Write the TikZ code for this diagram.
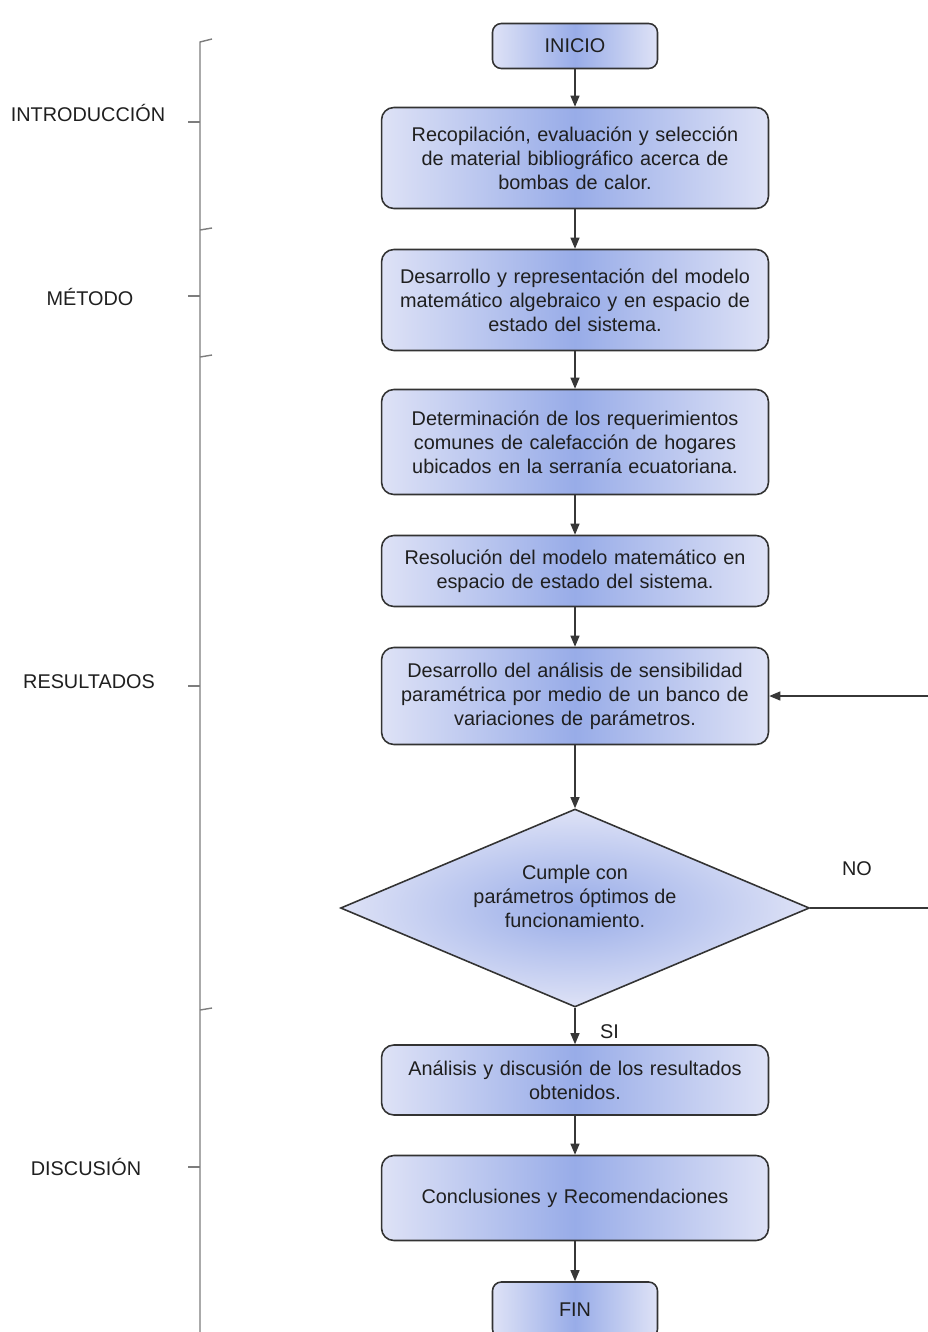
\documentclass[tikz,border=0pt]{standalone}
\usepackage{fontspec}
\setmainfont{Liberation Sans}
\usepackage{xcolor}
\usetikzlibrary{arrows.meta,positioning,shapes.geometric,calc}
\definecolor{boxedge}{RGB}{222,226,246}
\definecolor{boxmid}{RGB}{152,172,232}
\definecolor{inkline}{RGB}{55,55,55}
\definecolor{bracegray}{RGB}{125,125,125}

\begin{document}
\begin{tikzpicture}[
x=0.02cm,
y=-0.02cm,
every node/.style={font=\fontsize{11.3}{13.6}\selectfont,text=black!88},
stepbox/.style={rectangle,rounded corners=7pt,draw=black!80,line width=0.9pt,left color=boxedge,right color=boxedge,middle color=boxmid,align=center,inner sep=2pt,minimum width=7.74cm,text width=7.4cm},
term/.style={stepbox,rounded corners=5pt,minimum width=3.3cm,text width=3cm},
check/.style={diamond,aspect=2.37,draw=black!80,line width=0.9pt,inner color=boxmid,outer color=boxedge,align=center,inner sep=0pt,minimum width=9.38cm,minimum height=3.96cm},
arr/.style={-{Triangle[length=2.2mm,width=1.8mm]},draw=inkline,line width=0.65pt},
brace/.style={draw=bracegray,line width=0.8pt},
lbl/.style={inner sep=1pt},
phase/.style={inner sep=0pt}
]
\useasboundingbox (0,0) rectangle (927,1332);

\node[term,minimum height=0.9cm] (inicio) at (575,46) {INICIO};
\node[stepbox,minimum height=2.02cm] (recop) at (575,158) {Recopilación, evaluación y selección\\de material bibliográfico acerca de\\bombas de calor.};
\node[stepbox,minimum height=2.02cm] (modelo) at (575,300) {Desarrollo y representación del modelo\\matemático algebraico y en espacio de\\estado del sistema.};
\node[stepbox,minimum height=2.1cm] (reque) at (575,442) {Determinación de los requerimientos\\comunes de calefacción de hogares\\ubicados en la serranía ecuatoriana.};
\node[stepbox,minimum height=1.42cm] (resol) at (575,571) {Resolución del modelo matemático en\\espacio de estado del sistema.};
\node[stepbox,minimum height=1.94cm] (sensib) at (575,696) {Desarrollo del análisis de sensibilidad\\paramétrica por medio de un banco de\\variaciones de parámetros.};
\node[check] (cumple) at (575,908) {Cumple con\\parámetros óptimos de\\funcionamiento.\\\mbox{}};
\node[stepbox,minimum height=1.4cm] (analisis) at (575,1080) {Análisis y discusión de los resultados\\obtenidos.};
\node[stepbox,minimum height=1.7cm] (conclu) at (575,1198) {Conclusiones y Recomendaciones};
\node[term,minimum height=1.12cm] (fin) at (575,1310) {FIN};

% fases
\node[phase] (intro) at (88,113) {INTRODUCCIÓN};
\node[phase] (metodo) at (90,297) {MÉTODO};
\node[phase] (result) at (89,682) {RESULTADOS};
\node[phase] (discu) at (86,1167) {DISCUSIÓN};

\draw[brace] (212,39) -- (200,42) -- (200,1340);
\foreach \yy in {230,357,1010} \draw[brace] (200,\yy) -- (212,\yy-2);
\foreach \yy in {122,296,686,1167} \draw[brace] (200,\yy) -- (188,\yy);

\coordinate (back) at (940,908);

\draw[arr] (inicio) -- (recop);
\draw[arr] (recop) -- (modelo);
\draw[arr] (modelo) -- (reque);
\draw[arr] (reque) -- (resol);
\draw[arr] (resol) -- (sensib);
\draw[arr] (sensib) -- (cumple);
\draw[arr] (cumple) -- node[lbl,right=13pt,pos=0.65]{SI} (analisis);
\draw[arr] (cumple.east) -- node[lbl,above=17pt,pos=0.36]{NO} (back) |- (sensib.east);
\draw[arr] (analisis) -- (conclu);
\draw[arr] (conclu) -- (fin);
\end{tikzpicture}
\end{document}
